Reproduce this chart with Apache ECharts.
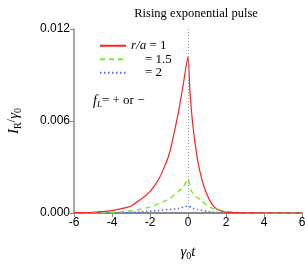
<!DOCTYPE html>
<html><head><meta charset="utf-8">
<script src="https://cdn.jsdelivr.net/npm/echarts@6/dist/echarts.min.js"></script>
<style>html,body{margin:0;padding:0;background:#fff}#c{width:305px;height:268px}</style>
</head><body><div id="c"></div>
<script>
var titleText = 'Rising exponential pulse';
var seriesNames = ['1', '1.5', '2'];
var xTicks = [-6, -4, -2, 0, 2, 4, 6];
var yTicks = [0, 0.006, 0.012];

var xRed = [-6, -5.5, -5, -4.5, -4, -3.5, -3, -2.5, -2, -1.5, -1, -0.5, -0.25, 0, 0.1, 0.25, 0.5, 0.75, 1, 1.25, 1.5, 1.75, 2, 2.5, 3, 4, 5, 6];
var yRed = [0.00002, 0.00003, 0.00005, 0.00009, 0.00016, 0.00028, 0.00046, 0.00088, 0.0014, 0.0023, 0.0038, 0.0066, 0.0084, 0.0102, 0.0080, 0.0058, 0.0035, 0.0021, 0.0012, 0.0006, 0.00027, 0.00013, 0.00006, 0.00002, 0.00001, 0, 0, 0];

var xGreen = [-6, -5, -4, -3.5, -3, -2.5, -2, -1.5, -1, -0.5, -0.25, 0, 0.15, 0.4, 0.7, 1, 1.3, 1.6, 2, 2.5, 3, 4, 5, 6];
var yGreen = [0, 0.00001, 0.00004, 0.00008, 0.00014, 0.00025, 0.0004, 0.00062, 0.00092, 0.0014, 0.0017, 0.0022, 0.0015, 0.00108, 0.00082, 0.0005, 0.0003, 0.0002, 0.0001, 0.00004, 0.00001, 0, 0, 0];

var xBlue = [-6, -4, -3, -2.5, -2, -1.5, -1, -0.5, 0, 0.25, 0.5, 1, 1.5, 2, 3, 6];
var yBlue = [0, 0.00001, 0.00004, 0.00007, 0.00012, 0.00017, 0.00023, 0.00029, 0.00045, 0.00032, 0.00022, 0.0001, 0.00004, 0.00001, 0, 0];

function pairs(xs, ys) { return xs.map(function (x, i) { return [x, ys[i]]; }); }

var chart = echarts.init(document.getElementById('c'), null, {renderer: 'canvas'});
var serif = '"Liberation Serif", "DejaVu Serif", serif';
var sans = '"Liberation Sans", Arial, sans-serif';

chart.setOption({
  animation: false,
  title: {
    text: titleText, left: 191, top: 2, textAlign: 'center',
    textStyle: {fontFamily: serif, fontSize: 12.5, fontWeight: 'normal', color: '#000'}
  },
  grid: {left: 74, right: 3, top: 29, bottom: 55, containLabel: false, outerBoundsMode: 'none'},
  legend: {
    orient: 'vertical', left: 94, top: 34, itemWidth: 26, itemHeight: 8, itemGap: 0,
    data: seriesNames,
    itemStyle: {opacity: 0},
    formatter: function (n) { return n === '1' ? '{it|r/a} = 1' : '{sp|}= ' + n; },
    textStyle: {
      fontFamily: serif, fontSize: 13, color: '#000', padding: [0, 0, 0, 0], lineHeight: 13.5,
      rich: {
        it: {fontFamily: serif, fontStyle: 'italic', fontSize: 13, color: '#000', lineHeight: 13.5},
        sp: {width: 14, lineHeight: 13.5}
      }
    }
  },
  xAxis: {
    type: 'value', min: -6, max: 6, interval: 2,
    axisLine: {onZero: false, lineStyle: {color: '#8a8a8a', width: 2}},
    axisTick: {show: true, inside: false, length: 4, lineStyle: {color: '#8a8a8a', width: 1}},
    axisLabel: {fontFamily: sans, fontSize: 12, color: '#000', margin: 4,
      formatter: function (v) { return xTicks.indexOf(v) >= 0 ? String(v) : ''; }},
    splitLine: {show: false},
    name: '{g|γ}{s|0}{t|t}', nameLocation: 'middle', nameGap: 30,
    nameTextStyle: {
      rich: {
        g: {fontFamily: serif, fontStyle: 'italic', fontSize: 15, color: '#000'},
        s: {fontFamily: serif, fontSize: 10, color: '#000', padding: [8, 0, 0, 0]},
        t: {fontFamily: serif, fontStyle: 'italic', fontSize: 15, color: '#000'}
      }
    }
  },
  yAxis: {
    type: 'value', min: 0, max: 0.012, interval: 0.006,
    axisLine: {show: true, onZero: false, lineStyle: {color: '#8a8a8a', width: 1.5}},
    axisTick: {show: true, inside: false, length: 4, lineStyle: {color: '#8a8a8a', width: 1}},
    axisLabel: {fontFamily: sans, fontSize: 12, color: '#000', margin: 4,
      formatter: function (v) { return v.toFixed(3); }},
    splitLine: {show: false},
    name: '{i|I}{s|R}{n|/}{i|γ}{s|0}', nameLocation: 'middle', nameGap: 51, nameRotate: 90,
    nameTextStyle: {
      rich: {
        i: {fontFamily: serif, fontStyle: 'italic', fontSize: 15, color: '#000'},
        s: {fontFamily: serif, fontSize: 10, color: '#000', padding: [8, 0, 0, 0]},
        n: {fontFamily: serif, fontSize: 13, color: '#000', padding: [0, 0, 5, 0]}
      }
    }
  },
  series: [
    {
      name: seriesNames[0], type: 'line', data: pairs(xRed, yRed), symbol: 'none', smooth: 0.2,
      lineStyle: {color: '#ff2020', width: 1.2, type: 'solid'}, itemStyle: {color: '#ff2020'},
      markLine: {
        silent: true, symbol: 'none', label: {show: false},
        lineStyle: {color: '#a0a0a0', type: [1, 2], width: 1},
        data: [{xAxis: 0}]
      },
      z: 3
    },
    {
      name: seriesNames[1], type: 'line', data: pairs(xGreen, yGreen), symbol: 'none', smooth: 0.2,
      lineStyle: {color: '#77ee22', width: 1.5, type: [5, 4]}, itemStyle: {color: '#77ee22'}, z: 2
    },
    {
      name: seriesNames[2], type: 'line', data: pairs(xBlue, yBlue), symbol: 'none', smooth: 0.2,
      lineStyle: {color: '#5566ff', width: 1.5, type: [1.5, 2.5]}, itemStyle: {color: '#5566ff'}, z: 1
    }
  ],
  graphic: [
    {
      type: 'text', left: 93, top: 94,
      style: {
        text: '{i|f}{s|L}{n|= + or \u2212}',
        rich: {
          i: {fontFamily: serif, fontStyle: 'italic', fontSize: 14, fill: '#000', color: '#000'},
          s: {fontFamily: serif, fontStyle: 'italic', fontSize: 9, fill: '#000', color: '#000', padding: [8, 0, 0, 0]},
          n: {fontFamily: serif, fontSize: 13, fill: '#000', color: '#000'}
        }
      }
    }
  ]
});
</script>
</body></html>
